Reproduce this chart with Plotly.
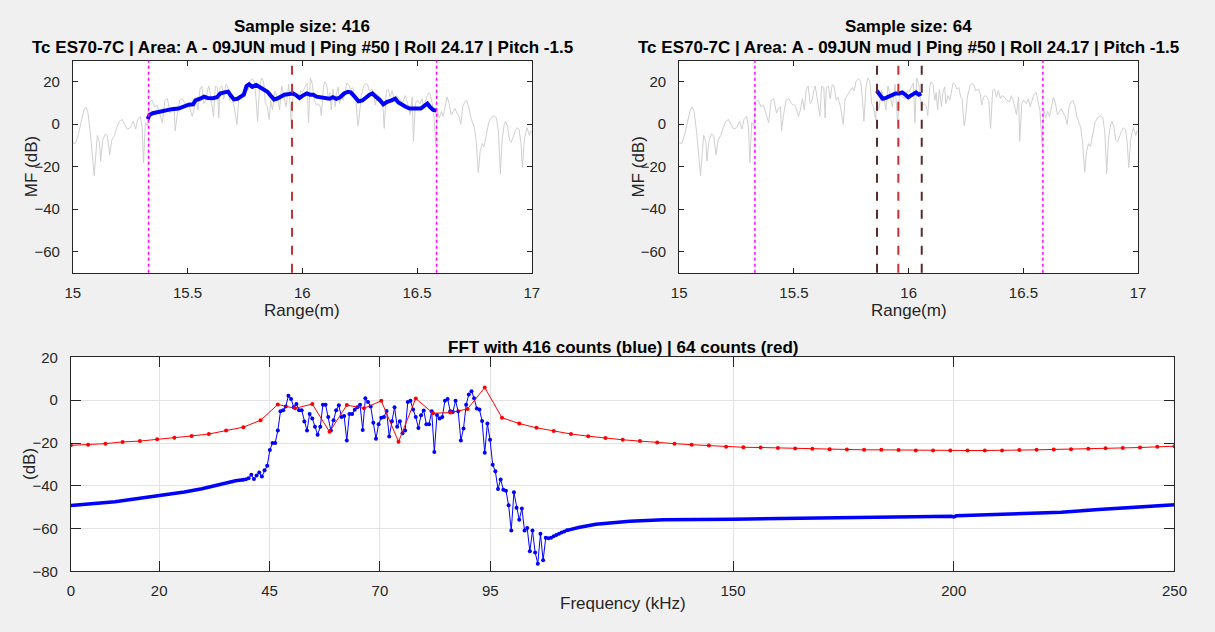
import plotly.graph_objects as go

# ---------------- data: top panels (matched-filter output vs range) ----------------
gray_range = [15.000, 15.011, 15.023, 15.037, 15.048, 15.056, 15.065, 15.076, 15.085, 15.093,
              15.102, 15.107, 15.116, 15.121, 15.130, 15.141, 15.150, 15.161, 15.169, 15.181,
              15.192, 15.203, 15.215, 15.226, 15.237, 15.251, 15.263, 15.274, 15.282, 15.294,
              15.302, 15.308, 15.316, 15.325, 15.333, 15.345, 15.356, 15.367, 15.379, 15.390,
              15.401, 15.412, 15.424, 15.432, 15.441, 15.446, 15.455, 15.466, 15.477, 15.489,
              15.500, 15.508, 15.520, 15.528, 15.537, 15.545, 15.554, 15.562, 15.571, 15.579,
              15.588, 15.593, 15.605, 15.613, 15.621, 15.630, 15.636, 15.641, 15.650, 15.658,
              15.667, 15.675, 15.684, 15.692, 15.703, 15.715, 15.723, 15.732, 15.743, 15.754,
              15.763, 15.771, 15.782, 15.791, 15.799, 15.805, 15.814, 15.822, 15.831, 15.839,
              15.847, 15.856, 15.862, 15.870, 15.881, 15.893, 15.901, 15.910, 15.921, 15.929,
              15.941, 15.952, 15.960, 15.972, 15.983, 15.994, 16.000, 16.010, 16.021, 16.027,
              16.035, 16.044, 16.052, 16.061, 16.069, 16.078, 16.083, 16.092, 16.097, 16.106,
              16.114, 16.120, 16.126, 16.134, 16.143, 16.148, 16.157, 16.162, 16.171, 16.179,
              16.188, 16.194, 16.202, 16.210, 16.219, 16.227, 16.233, 16.242, 16.247, 16.256,
              16.267, 16.275, 16.284, 16.292, 16.304, 16.312, 16.318, 16.326, 16.335, 16.349,
              16.357, 16.366, 16.374, 16.383, 16.391, 16.400, 16.408, 16.417, 16.428, 16.439,
              16.448, 16.459, 16.470, 16.479, 16.484, 16.493, 16.501, 16.513, 16.521, 16.530,
              16.538, 16.547, 16.555, 16.564, 16.572, 16.581, 16.589, 16.597, 16.606, 16.614,
              16.623, 16.631, 16.640, 16.648, 16.657, 16.665, 16.674, 16.682, 16.691, 16.699,
              16.708, 16.716, 16.725, 16.733, 16.742, 16.750, 16.758, 16.767, 16.775, 16.784,
              16.792, 16.801, 16.812, 16.823, 16.835, 16.846, 16.855, 16.863, 16.871, 16.880,
              16.886, 16.894, 16.903, 16.911, 16.919, 16.928, 16.936, 16.945, 16.953, 16.959,
              16.968, 16.979, 16.990, 16.996, 17.000]
gray_mf = [-8.7, -9.1, -5.3, 0.7, 6.7, 8.2, 6.0, -3.8, -14.4, -24.2,
           -11.4, -5.3, -8.4, -17.4, -7.6, -4.6, -5.3, -14.4, -7.6, -5.3,
           -1.6, 1.4, 2.2, -0.1, -2.3, -1.6, 1.4, -2.3, 2.2, 3.7,
           -1.6, -18.2, 0.7, -0.8, 10.5, 11.3, 8.2, 9.0, 4.5, 0.7,
           11.3, 12.0, 5.2, 7.5, 8.2, -3.1, 4.5, 11.3, 12.0, 9.7,
           9.0, 8.2, 3.7, 6.7, 12.0, 6.7, 16.5, 18.0, 9.7, 11.3,
           16.5, 18.0, 9.7, 3.7, 18.0, 17.3, 3.0, 17.3, 18.0, 12.0,
           18.8, 18.0, 11.3, 12.8, 8.2, -0.1, 12.0, 13.5, 15.0, 17.3,
           15.8, 20.3, 21.5, 20.0, 11.3, 1.4, 17.3, 21.8, 20.3, 9.7,
           8.2, 2.2, 11.3, 6.7, 15.8, 12.0, 6.7, 18.0, 12.8, 8.2,
           18.8, -0.1, 14.3, 12.8, 12.0, 15.8, 15.0, 17.3, 19.5, 0.7,
           21.8, 18.8, 11.3, 9.0, 9.7, 8.2, 4.0, 17.3, 20.0, 18.8,
           11.3, 15.0, 6.7, 16.5, 8.2, 14.3, 17.6, 9.7, 13.5, 11.3,
           17.3, 19.5, 18.8, 16.5, 17.3, 12.8, 12.0, -0.8, 2.2, 12.8,
           18.0, 19.1, 18.8, 15.8, 16.5, 14.3, 9.0, 12.8, 13.5, 11.3,
           -2.0, 15.8, 16.5, 12.8, 15.8, 12.0, 13.5, 12.8, 11.3, 10.5,
           13.5, 9.7, 4.5, 12.8, -8.1, 9.7, 11.3, 9.7, 12.0, 8.2,
           11.3, 14.3, 15.0, 10.5, 6.7, -9.1, 6.7, 3.0, 6.0, 3.7,
           8.2, 12.8, 9.7, 4.5, 6.0, 7.5, 5.2, 3.7, -0.1, 8.2,
           10.5, 11.3, 8.2, 3.7, 0.7, -1.6, -8.4, -22.7, -12.9, -9.1,
           -10.6, -5.3, 0.7, 3.0, 4.0, 3.0, -3.8, -23.4, -6.8, -0.1,
           1.4, -0.8, -7.6, -8.4, -5.3, -3.1, -1.6, -2.6, -9.1, -20.4,
           -6.8, -1.6, -5.3, -3.1, -4.0]

# smoothed MF, 416-sample window (left panel)
blue416_range = [15.326, 15.334, 15.348, 15.374, 15.403, 15.431, 15.460, 15.477, 15.488, 15.505,
                 15.524, 15.534, 15.560, 15.571, 15.588, 15.610, 15.628, 15.642, 15.660, 15.677,
                 15.688, 15.702, 15.717, 15.731, 15.745, 15.757, 15.768, 15.782, 15.799, 15.817,
                 15.831, 15.848, 15.862, 15.877, 15.891, 15.905, 15.922, 15.942, 15.959, 15.974,
                 15.988, 16.002, 16.019, 16.034, 16.048, 16.062, 16.076, 16.091, 16.105, 16.119,
                 16.133, 16.148, 16.165, 16.182, 16.199, 16.211, 16.228, 16.245, 16.262, 16.276,
                 16.293, 16.305, 16.322, 16.339, 16.353, 16.370, 16.388, 16.405, 16.419, 16.433,
                 16.450, 16.468, 16.485, 16.499, 16.516, 16.530, 16.545, 16.556, 16.570, 16.585]
blue416_mf = [2.4, 4.4, 5.2, 5.9, 6.7, 7.1, 7.4, 8.2, 8.9, 9.2,
              9.4, 11.2, 12.3, 13.0, 12.4, 12.3, 12.7, 14.5, 15.0, 15.3,
              13.5, 11.7, 12.0, 13.0, 13.9, 18.0, 18.8, 17.6, 18.5, 17.3,
              16.5, 15.3, 13.5, 11.7, 12.1, 13.0, 13.9, 14.2, 14.5, 13.6,
              12.4, 13.5, 14.5, 13.9, 13.9, 13.0, 12.7, 12.3, 12.0, 12.0,
              12.7, 12.0, 12.7, 14.5, 15.3, 15.0, 13.0, 10.8, 11.2, 12.7,
              13.9, 14.5, 13.0, 11.2, 9.4, 10.6, 11.2, 12.0, 10.2, 9.2,
              8.2, 7.4, 7.4, 7.0, 7.4, 8.5, 9.7, 8.2, 6.7, 6.4]

# smoothed MF, 64-sample window (right panel)
blue64_range = [15.861, 15.872, 15.887, 15.901, 15.915, 15.929, 15.943, 15.958, 15.972,
                15.986, 15.998, 16.009, 16.021, 16.032, 16.044, 16.055]
blue64_mf = [15.8, 14.2, 12.0, 12.4, 13.0, 13.9, 14.5, 14.5, 15.0,
             13.9, 12.7, 13.5, 14.2, 15.0, 13.9, 14.5]

window_bounds = [15.33, 16.585]          # magenta dotted
center_range = 15.955                     # red dashed
window64_bounds = [15.862, 16.057]       # dark dashed (right panel)

# ---------------- data: bottom panel (FFT) ----------------
red_fft_db = [-21.1, -20.8, -20.3, -19.5, -19.1, -18.3, -17.6, -16.7, -15.8, -14.2,
              -12.6, -9.4, -2.0, -3.8, -1.8, -14.8, -2.3, -3.8, -0.3, -19.4,
              0.8, -6.1, -5.8, -4.1, 5.9, -8.2, -10.9, -12.9, -14.4, -15.8,
              -16.8, -17.7, -18.5, -19.1, -19.8, -20.3, -20.8, -21.2, -21.7, -22.0,
              -22.1, -22.3, -22.6, -22.7, -22.9, -23.0, -23.2, -23.2, -23.3, -23.5,
              -23.5, -23.5, -23.5, -23.5, -23.5, -23.3, -23.2, -23.0, -22.9, -22.7,
              -22.4, -22.3, -22.1, -21.8, -21.5]

blue_start_bin = 65
blue_fft_db = [-37.2, -36.9, -36.5, -34.8, -36.8, -35.2, -33.8, -35.6, -32.7,
               -30.6, -23.3, -20.0, -20.0, -14.2, -5.2, -4.7, -3.0, 2.1, 0.6,
               -3.3, -1.8, -4.7, -4.7, -10.0, -14.2, -6.4, -8.5, -12.4, -16.1,
               -12.4, -2.1, -2.1, -7.9, -14.2, -9.4, -4.7, -2.4, -7.9, -7.4,
               -18.8, -6.4, -6.4, -4.5, -3.3, -2.1, -13.9, 0.9, -0.9, -2.9, -10.5,
               -18.0, -11.2, -8.2, -7.9, -5.0, -17.0, -9.8, -3.3, -12.4, -9.8,
               -15.5, -14.2, -0.9, -0.3, -4.4, -7.9, -13.0, -7.0, -4.8, -11.2,
               -11.2, -5.2, -24.2, -6.9, -8.5, -7.9, -0.3, 0.6, -5.2, -5.5,
               -0.3, -5.2, -18.8, -13.2,
               -2.1, 2.7, 4.2, 0.9, -3.9, -4.4, -9.7, -24.5, -10.9, -18.5,
               -30.2, -33.2, -41.5, -37.0, -41.8, -42.3, -49.1, -60.9, -43.0, -50.3,
               -55.9, -50.6, -60.9, -59.7, -70.6, -60.9, -71.1, -76.4, -62.4, -74.8,
               -64.2, -64.5, -64.2, -63.6, -63.0, -62.4, -61.8, -61.3, -60.8]

blue_low_freq = [0, 3, 6.6, 10, 14.4, 20.2, 25.7, 29.7, 33.5, 36, 37.3, 39.06]
blue_low_db = [-49.2, -48.7, -48.0, -47.4, -46.2, -44.7, -42.9, -41.4, -39.4, -38.2, -37.6, -37.2]

blue_high_freq = [112.38, 115, 118.9, 122.8, 126.6, 130.4, 134.3, 150, 165.5, 182.3,
                  199.5, 200, 200.6, 216, 224.4, 232.8, 241.2, 250]
blue_high_db = [-60.8, -59.5, -58.0, -57.1, -56.5, -56.2, -55.9, -55.6, -55.3, -54.7,
                -54.2, -54.5, -54.0, -52.9, -52.3, -51.1, -50.0, -48.9]

freq_ticks = [0, 20, 45, 70, 95, 150, 200, 250]
db_ticks_fft = [-80, -60, -40, -20, 0, 20]
range_ticks = [15, 15.5, 16, 16.5, 17]
range_ticklabels = ["15", "15.5", "16", "16.5", "17"]
mf_ticks = [-60, -40, -20, 0, 20]

n_fft_blue = 416
n_fft_red = 64
fmax = 250.0
red_freq = [i * fmax / n_fft_red for i in range(len(red_fft_db))]
blue_freq = [(blue_start_bin + i) * fmax / n_fft_blue for i in range(len(blue_fft_db))]

# ---------------- figure ----------------
W, H = 1215, 632
FONT = "Liberation Sans, Arial, Helvetica, sans-serif"
AX = "#262626"
GRAY = "#CFCFCF"

fig = go.Figure()

for xa, ya, bx, by in [("x", "y", blue416_range, blue416_mf), ("x2", "y2", blue64_range, blue64_mf)]:
    fig.add_trace(go.Scatter(x=gray_range, y=gray_mf, mode="lines",
                             line=dict(color=GRAY, width=1), xaxis=xa, yaxis=ya,
                             hoverinfo="skip"))
    fig.add_trace(go.Scatter(x=bx, y=by, mode="lines",
                             line=dict(color="#0000FF", width=4), xaxis=xa, yaxis=ya))

# bottom FFT
fig.add_trace(go.Scatter(x=blue_low_freq, y=blue_low_db, mode="lines",
                         line=dict(color="#0000FF", width=3.5), xaxis="x3", yaxis="y3"))
fig.add_trace(go.Scatter(x=blue_high_freq, y=blue_high_db, mode="lines",
                         line=dict(color="#0000FF", width=3.5), xaxis="x3", yaxis="y3"))
fig.add_trace(go.Scatter(x=blue_freq, y=blue_fft_db, mode="lines+markers",
                         line=dict(color="#0000FF", width=1),
                         marker=dict(color="#0000FF", size=4), xaxis="x3", yaxis="y3"))
fig.add_trace(go.Scatter(x=red_freq, y=red_fft_db, mode="lines+markers",
                         line=dict(color="#FF0000", width=1),
                         marker=dict(color="#FF0000", size=4), xaxis="x3", yaxis="y3"))

def px_x(a, b):
    return [a / W, b / W]

def px_y(top, bottom):
    return [1 - bottom / H, 1 - top / H]

base_axis = dict(showline=True, linecolor=AX, linewidth=1, mirror="ticks",
                 ticks="inside", tickcolor=AX, zeroline=False,
                 tickfont=dict(family=FONT, size=15, color=AX), ticklabelstandoff=6)
base_yaxis = dict(base_axis, ticklabelstandoff=9)

top_y_dom = px_y(53, 271)
layout = dict(
    width=W, height=H, autosize=False,
    margin=dict(l=0, r=0, t=0, b=0),
    paper_bgcolor="#F0F0F0", plot_bgcolor="#FFFFFF",
    showlegend=False,
    xaxis=dict(base_axis, domain=px_x(66, 533), range=[15, 17], tickvals=range_ticks,
               ticktext=range_ticklabels, ticklen=5, showgrid=False, anchor="y"),
    yaxis=dict(base_yaxis, domain=top_y_dom, range=[-70, 30], tickvals=mf_ticks,
               ticklen=5, showgrid=False, anchor="x"),
    xaxis2=dict(base_axis, domain=px_x(683, 1150), range=[15, 17], tickvals=range_ticks,
                ticktext=range_ticklabels, ticklen=5, showgrid=False, anchor="y2"),
    yaxis2=dict(base_yaxis, domain=top_y_dom, range=[-70, 30], tickvals=mf_ticks,
                ticklen=5, showgrid=False, anchor="x2"),
    xaxis3=dict(base_axis, domain=px_x(64, 1187), range=[0, 250], tickvals=freq_ticks,
                ticklen=10, showgrid=True, gridcolor="#E3E3E3", gridwidth=1, anchor="y3"),
    yaxis3=dict(base_yaxis, domain=px_y(358, 578), range=[-80, 20], tickvals=db_ticks_fft,
                ticklen=10, showgrid=True, gridcolor="#E3E3E3", gridwidth=1, anchor="x3"),
)
fig.update_layout(**layout)

shapes = []
def vline(xref, yref, x, color, dash, width):
    shapes.append(dict(type="line", xref=xref, yref=yref + " domain", x0=x, x1=x, y0=0, y1=1,
                       line=dict(color=color, dash=dash, width=width), layer="above"))

for xr, yr in [("x", "y"), ("x2", "y2")]:
    for b in window_bounds:
        vline(xr, yr, b, "#FF00FF", "dot", 1.5)
for b in window64_bounds:
    vline("x2", "y2", b, "#5C2A2A", "dash", 2)
vline("x", "y", center_range, "#C83232", "dash", 2)
vline("x2", "y2", center_range, "#C83232", "dash", 2)
fig.update_layout(shapes=shapes)

ann = []
def text(x, y, s, size=17, bold=False, angle=0, color=AX):
    ann.append(dict(xref="paper", yref="paper", x=x / W, y=1 - y / H, text=("<b>%s</b>" % s) if bold else s,
                    showarrow=False, textangle=angle, xanchor="center", yanchor="middle",
                    font=dict(family=FONT, size=size, color=color)))

subtitle = "Tc ES70-7C | Area: A - 09JUN mud | Ping #50 | Roll 24.17 | Pitch -1.5"
TS = 17
text(299.5, 18, "Sample size: 416", size=TS, bold=True, color="#000000")
text(299.5, 40, subtitle, size=TS, bold=True, color="#000000")
text(916.5, 18, "Sample size: 64", size=TS, bold=True, color="#000000")
text(916.5, 40, subtitle, size=TS, bold=True, color="#000000")
text(299.5, 310, "Range(m)")
text(916.5, 310, "Range(m)")
text(24, 162, "MF (dB)", angle=-90)
text(642, 162, "MF (dB)", angle=-90)
text(625.5, 348, "FFT with 416 counts (blue) | 64 counts (red)", size=TS, bold=True, color="#000000")
text(625.5, 611, "Frequency (kHz)")
text(22, 468, "(dB)", angle=-90)
fig.update_layout(annotations=ann)

fig.write_html("out.html")
